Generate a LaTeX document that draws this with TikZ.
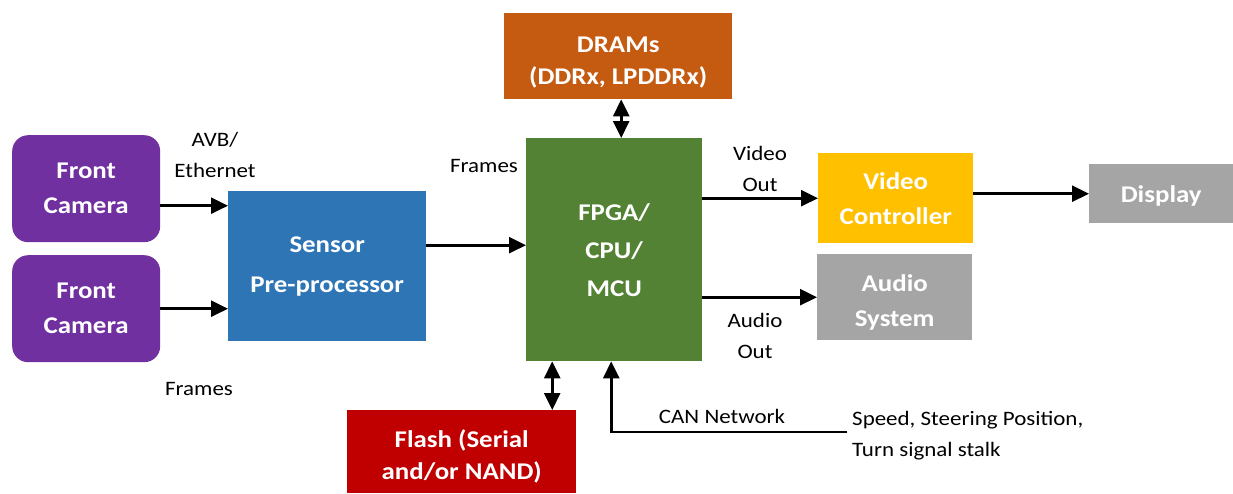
\documentclass[tikz,border=0pt]{standalone}
\usepackage{fontspec}
\setmainfont[FakeStretch=1.12]{Carlito}
\usetikzlibrary{arrows.meta}
\definecolor{cpurple}{HTML}{7030A0}
\definecolor{cblue}{HTML}{2E75B6}
\definecolor{cgreen}{HTML}{548235}
\definecolor{corange}{HTML}{C55A11}
\definecolor{cred}{HTML}{C00000}
\definecolor{cyellow}{HTML}{FFC000}
\definecolor{cgray}{HTML}{A5A5A5}
\newcommand{\pushdown}[1]{\rule{0pt}{#1}}
\tikzset{
  blk/.style={anchor=north west, inner sep=0pt, text=white, align=center,
    font=\fontsize{24}{35}\selectfont\bfseries},
  lbl/.style={inner sep=0pt, align=center, font=\fontsize{20.5}{31}\selectfont},
  arr/.style={line width=2.8pt, -{Triangle[length=17pt,width=16pt]}},
  darr/.style={line width=2.8pt, {Triangle[length=17pt,width=16pt]}-{Triangle[length=17pt,width=16pt]}},
  ln/.style={line width=2.8pt}
}
\begin{document}
\begin{tikzpicture}[x=1pt,y=-1pt]
\useasboundingbox (0,0) rectangle (1233,493);
% blocks
\node[blk, fill=cpurple, rounded corners=16pt, minimum width=148pt, minimum height=107pt] (cam1) at (12,135) {Front\\Camera};
\node[blk, fill=cpurple, rounded corners=16pt, minimum width=148pt, minimum height=107pt] (cam2) at (12,255) {Front\\Camera};
\node[blk, fill=cblue, minimum width=198pt, minimum height=150pt, font=\fontsize{24}{40}\selectfont\bfseries] (sensor) at (228,191) {Sensor\\Pre-processor};
\node[blk, fill=cgreen, minimum width=176pt, minimum height=223pt, font=\fontsize{24}{38}\selectfont\bfseries] (fpga) at (526,138) {FPGA/\\CPU/\\MCU};
\node[blk, fill=corange, minimum width=228pt, minimum height=86pt, font=\fontsize{24}{32}\selectfont\bfseries] (dram) at (504,13) {\pushdown{28pt}DRAMs\\(DDRx, LPDDRx)};
\node[blk, fill=cred, minimum width=229pt, minimum height=83pt, font=\fontsize{24}{32}\selectfont\bfseries] (flash) at (347,410) {\pushdown{28pt}Flash (Serial\\and/or NAND)};
\node[blk, fill=cyellow, minimum width=155pt, minimum height=90pt] (vc) at (818,153) {Video\\Controller};
\node[blk, fill=cgray, minimum width=155pt, minimum height=86pt] (audio) at (817,254) {\pushdown{27pt}Audio\\System};
\node[blk, fill=cgray, minimum width=144pt, minimum height=59pt] (disp) at (1089,164) {\pushdown{21pt}Display};
% labels
\node[lbl] (lavb) at (215,155) {AVB/\\Ethernet};
\node[lbl] (lfr1) at (484,166) {Frames};
\node[lbl] (lfr2) at (199,389) {Frames};
\node[lbl] (lvid) at (760,169) {Video\\Out};
\node[lbl] (laud) at (755,336) {Audio\\Out};
\node[lbl] (lcan) at (722,416) {CAN Network};
\node[lbl, anchor=west, align=left] (lspd) at (852,436) {Speed, Steering Position,\\Turn signal stalk};
% connectors
\draw[arr] ([yshift=-17pt]cam1.east) coordinate (c1) -- (c1 -| sensor.west);
\draw[arr] (cam2.east) -- (cam2.east -| sensor.west);
\draw[arr] ([yshift=21pt]sensor.east) coordinate (s1) -- (s1 -| fpga.west);
\draw[darr] ([xshift=7pt]fpga.north) coordinate (f1) -- (f1 |- dram.south);
\draw[darr] ([xshift=-62pt]fpga.south) coordinate (f2) -- (f2 |- flash.north);
\draw[arr] (fpga.east |- vc.west) -- (vc.west);
\draw[arr] (fpga.east |- audio.west) -- (audio.west);
\draw[arr] (vc.east |- disp.west) -- (disp.west);
\coordinate (canend) at (847,432);
\draw[arr] (canend) -| ([xshift=-3pt]fpga.south);
\end{tikzpicture}
\end{document}
